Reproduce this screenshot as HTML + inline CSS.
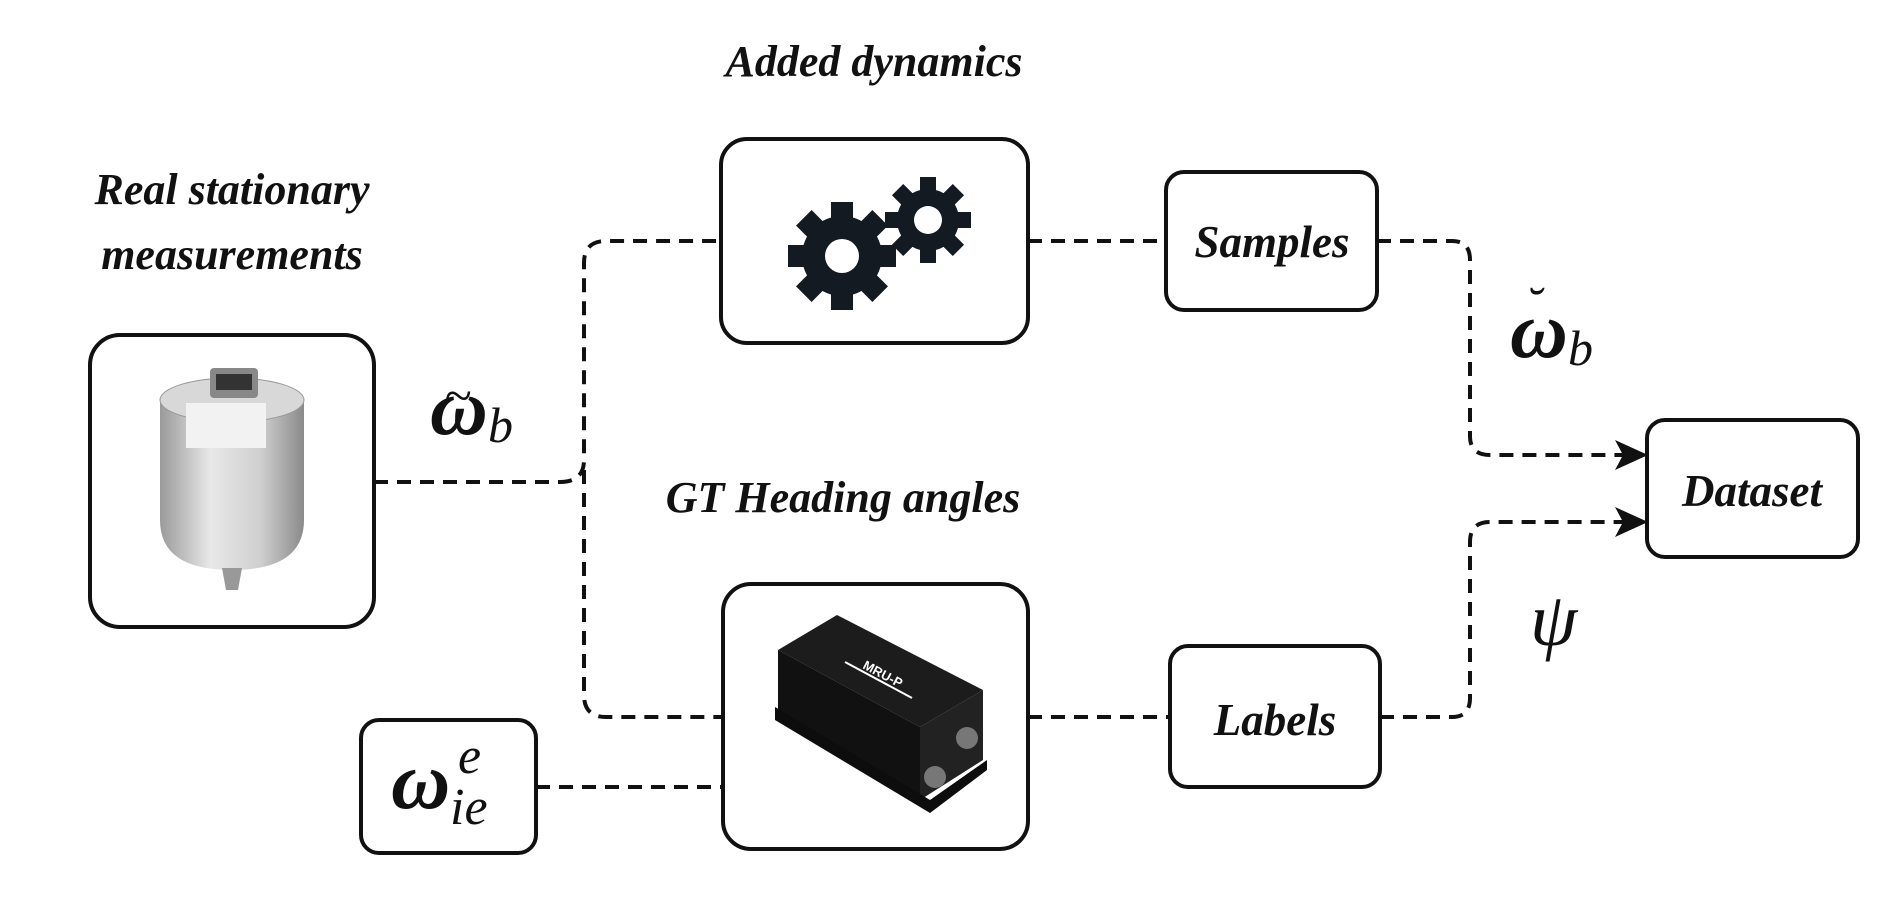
<!DOCTYPE html>
<html><head><meta charset="utf-8"><style>
html,body{margin:0;padding:0;background:#fff;}
svg{display:block}
.t{font-family:"Liberation Serif",serif;font-style:italic;font-weight:bold;fill:#111;}
.m{font-family:"Liberation Serif",serif;font-style:italic;fill:#111;}
</style></head><body>
<svg width="1890" height="903" viewBox="0 0 1890 903" xmlns="http://www.w3.org/2000/svg">
<g fill="none" stroke="#111" stroke-width="4" stroke-dasharray="14,9">
<path d="M374 482 H560 Q584 482 584 460 V263 Q584 241 606 241 H721"/>
<path d="M584 470 V695 Q584 717 606 717 H723"/>
<path d="M1028 241 H1166"/>
<path d="M1377 241 H1452 Q1470 241 1470 260 V436 Q1470 455 1490 455 H1625"/>
<path d="M1028 717 H1170"/>
<path d="M1380 717 H1452 Q1470 717 1470 698 V542 Q1470 522 1490 522 H1625"/>
<path d="M536 787 H723"/>
</g>
<path d="M1615 440 L1648 455 L1615 470 L1623 455Z" fill="#111"/>
<path d="M1615 507 L1648 522 L1615 537 L1623 522Z" fill="#111"/>
<g fill="#fff" stroke="#111" stroke-width="4">
<rect x="721" y="139" width="307" height="204" rx="26"/>
<rect x="1166" y="172" width="211" height="138" rx="18"/>
<rect x="90" y="335" width="284" height="292" rx="30"/>
<rect x="1647" y="420" width="211" height="137" rx="18"/>
<rect x="723" y="584" width="305" height="265" rx="28"/>
<rect x="1170" y="646" width="210" height="141" rx="18"/>
<rect x="361" y="720" width="175" height="133" rx="18"/>
</g>
<g fill="#141a22">
<g transform="translate(842,256)">
<circle r="40"/>
<g id="tb"><rect x="-11" y="-54" width="22" height="22"/></g>
<use href="#tb" transform="rotate(45)"/><use href="#tb" transform="rotate(90)"/><use href="#tb" transform="rotate(135)"/>
<use href="#tb" transform="rotate(180)"/><use href="#tb" transform="rotate(225)"/><use href="#tb" transform="rotate(270)"/><use href="#tb" transform="rotate(315)"/>
<circle r="17" fill="#fff"/>
</g>
<g transform="translate(928,220)">
<circle r="31"/>
<g id="tb2"><rect x="-8" y="-43" width="16" height="16"/></g>
<use href="#tb2" transform="rotate(45)"/><use href="#tb2" transform="rotate(90)"/><use href="#tb2" transform="rotate(135)"/>
<use href="#tb2" transform="rotate(180)"/><use href="#tb2" transform="rotate(225)"/><use href="#tb2" transform="rotate(270)"/><use href="#tb2" transform="rotate(315)"/>
<circle r="14" fill="#fff"/>
</g>
</g>
<defs>
<linearGradient id="cy" x1="0" x2="1"><stop offset="0" stop-color="#9a9a9a"/><stop offset="0.35" stop-color="#e8e8e8"/><stop offset="0.7" stop-color="#cfcfcf"/><stop offset="1" stop-color="#8a8a8a"/></linearGradient>
</defs>
<path d="M160 400 V520 Q160 570 232 570 Q304 570 304 520 V400Z" fill="url(#cy)"/>
<ellipse cx="232" cy="400" rx="72" ry="22" fill="#d8d8d8" stroke="#999"/>
<rect x="186" y="403" width="80" height="45" fill="#f2f2f2"/>
<rect x="210" y="368" width="48" height="30" rx="4" fill="#888"/>
<rect x="216" y="374" width="36" height="16" fill="#333"/>
<path d="M222 568 L242 568 L238 590 L226 590Z" fill="#999"/>
<path d="M778 650 L837 615 L983 690 L920 727Z" fill="#1c1c1c"/>
<path d="M778 650 L920 727 L920 800 L778 720Z" fill="#111"/>
<path d="M920 727 L983 690 L983 760 L920 800Z" fill="#222"/>
<path d="M775 707 L775 720 L930 813 L987 770 L987 760 L930 800Z" fill="#0d0d0d"/>
<line x1="845" y1="662" x2="912" y2="698" stroke="#fff" stroke-width="2"/>
<text x="862" y="668" font-family="Liberation Sans,sans-serif" font-size="13" font-weight="bold" fill="#fff" transform="rotate(28 862 668)">MRU-P</text>
<circle cx="967" cy="738" r="11" fill="#777"/><circle cx="935" cy="777" r="11" fill="#777"/>
<text class="t" x="874" y="76" font-size="44" text-anchor="middle">Added dynamics</text>
<text class="t" x="232" y="204" font-size="44" text-anchor="middle">Real stationary</text>
<text class="t" x="232" y="269" font-size="44" text-anchor="middle">measurements</text>
<text class="t" x="843" y="512" font-size="44" text-anchor="middle">GT Heading angles</text>
<text class="t" x="1272" y="257" font-size="45" text-anchor="middle">Samples</text>
<text class="t" x="1275" y="735" font-size="45" text-anchor="middle">Labels</text>
<text class="t" x="1752" y="506" font-size="45" text-anchor="middle">Dataset</text>
<text class="m" x="430" y="434" font-size="80" font-weight="bold">ω</text>
<text class="m" x="488" y="442" font-size="50">b</text>
<text class="m" x="444" y="412" font-size="50">~</text>
<text class="m" x="1510" y="357" font-size="80" font-weight="bold">ω</text>
<text class="m" x="1568" y="365" font-size="50">b</text>
<text class="m" x="1525" y="322" font-size="50">˘</text>
<text class="m" x="1530" y="645" font-size="76">ψ</text>
<text class="m" x="391" y="808" font-size="82" font-weight="bold">ω</text>
<text class="m" x="458" y="773" font-size="52">e</text>
<text class="m" x="450" y="824" font-size="52">ie</text>
</svg>
</body></html>
